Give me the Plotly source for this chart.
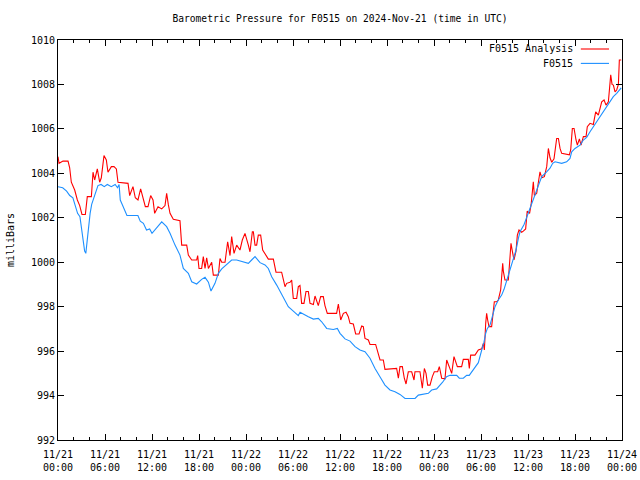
import plotly.graph_objects as go
from datetime import datetime, timedelta

# F0515 (station) : hours since 2024-11-21 00:00 UTC, pressure in mbar
station_hours = [0.0, 0.6, 1.1, 1.5, 1.9, 2.2, 2.5, 2.8, 3.0, 3.2, 3.4, 3.55, 3.7, 3.9, 4.1, 4.3, 4.6, 4.9,
                 5.1, 5.5, 5.9, 6.3, 6.8, 7.3, 7.6, 7.8, 7.95, 8.2, 8.5, 8.8, 9.5, 10.2, 10.5, 10.9, 11.3,
                 11.7, 12.0, 12.5, 12.9, 13.24, 13.87, 14.3, 14.94, 15.57, 16.0, 16.64, 17.07, 17.7, 18.34,
                 18.77, 19.2, 19.53, 20.04, 20.47, 20.9, 21.53, 22.17, 22.81, 23.66, 24.3, 24.72, 25.15,
                 25.79, 26.43, 26.85, 27.28, 27.92, 28.56, 28.98, 29.4, 30.04, 30.68, 30.9, 31.32, 31.96,
                 32.6, 33.23, 33.66, 34.3, 35.15, 35.66, 36.0, 36.64, 37.28, 37.92, 38.55, 39.19, 39.83,
                 40.47, 41.1, 41.74, 42.38, 43.02, 43.66, 44.3, 45.58, 46.0, 47.28, 47.7, 48.34, 48.77,
                 49.1, 49.6, 50.04, 50.9, 51.23, 51.74, 52.17, 52.5, 52.81, 53.23, 53.66, 54.09, 54.38,
                 54.6, 54.81, 55.15, 55.49, 55.79, 56.21, 56.64, 56.94, 57.28, 57.62, 58.04, 58.47, 58.77,
                 58.98, 59.5, 60.0, 60.5, 61.1, 61.75, 62.38, 62.81, 63.15, 63.45, 64.3, 64.94, 65.36,
                 65.58, 66.0, 66.64, 67.07, 67.49, 67.92, 68.34, 68.77, 69.19, 69.62, 70.04, 70.47, 70.89,
                 71.32, 71.66, 71.9]
station_mbar = [1003.4, 1003.35, 1003.2, 1003.0, 1002.9, 1002.5, 1002.2, 1002.05, 1001.6, 1001.0, 1000.5,
                1000.4, 1000.9, 1001.6, 1002.2, 1002.6, 1002.9, 1003.2, 1003.45, 1003.5, 1003.4, 1003.5,
                1003.4, 1003.5, 1003.35, 1003.5, 1002.8, 1002.6, 1002.3, 1002.1, 1002.1, 1002.1, 1001.85,
                1001.75, 1001.45, 1001.5, 1001.3, 1001.5, 1001.65, 1001.82, 1001.6, 1001.3, 1000.77,
                1000.32, 999.72, 999.5, 999.12, 999.02, 999.23, 999.32, 999.1, 998.7, 999.05, 999.5,
                999.7, 999.9, 1000.1, 1000.1, 1000.02, 999.95, 1000.1, 1000.25, 999.98, 999.88, 999.72,
                999.35, 998.97, 998.52, 998.25, 998.0, 997.8, 997.6, 997.75, 997.66, 997.55, 997.44,
                997.47, 997.32, 997.02, 996.97, 997.02, 996.8, 996.55, 996.45, 996.2, 996.05, 995.97,
                995.68, 995.22, 994.85, 994.47, 994.25, 994.17, 994.05, 993.87, 993.87, 994.02, 994.1,
                994.25, 994.3, 994.47, 994.6, 994.85, 994.91, 994.91, 994.78, 994.78, 994.91, 994.91,
                995.07, 995.3, 995.48, 996.05, 996.4, 996.8, 997.02, 997.17, 997.62, 998.0, 998.3,
                998.52, 998.78, 999.2, 999.57, 1000.02, 1000.55, 1001.07, 1001.37, 1001.7, 1002.2,
                1002.6, 1003.3, 1003.85, 1004.07, 1004.23, 1004.45, 1004.52, 1004.45, 1004.52, 1004.67,
                1004.97, 1005.12, 1005.27, 1005.5, 1005.62, 1005.87, 1006.1, 1006.32, 1006.52, 1006.77,
                1007.0, 1007.22, 1007.45, 1007.6, 1007.78, 1007.85]

# F0515 Analysis
analysis_hours = [0.0, 0.13, 0.64, 1.28, 1.49, 1.7, 2.13, 2.47, 2.77, 3.06, 3.49, 3.74, 4.26, 4.47, 4.68,
                  5.02, 5.32, 5.53, 5.87, 6.17, 6.38, 6.81, 7.15, 7.45, 7.66, 8.94, 9.15, 9.57, 9.87, 10.21,
                  10.55, 10.85, 11.15, 11.49, 11.83, 12.13, 12.34, 12.77, 13.24, 13.66, 13.87, 14.08, 14.3,
                  14.72, 15.57, 15.79, 16.43, 16.64, 17.07, 17.7, 17.83, 18.0, 18.34, 18.55, 18.77, 18.98,
                  19.2, 19.62, 19.83, 20.47, 20.68, 20.9, 21.32, 21.66, 21.96, 22.17, 22.47, 22.81, 23.23,
                  23.53, 23.87, 24.3, 24.51, 24.81, 24.94, 25.15, 25.36, 25.57, 25.87, 26.13, 26.43, 26.85,
                  27.49, 27.83, 28.55, 28.77, 28.98, 29.19, 29.62, 29.83, 30.04, 30.47, 30.68, 30.89, 31.1,
                  31.4, 31.66, 31.96, 32.17, 32.6, 32.81, 33.23, 33.53, 33.87, 34.08, 34.38, 35.57, 35.79,
                  36.09, 36.43, 36.77, 37.06, 37.28, 37.7, 38.0, 38.43, 38.77, 38.98, 39.19, 39.62, 39.83,
                  40.55, 40.81, 41.11, 41.53, 41.74, 43.23, 43.45, 43.66, 43.96, 44.21, 44.43, 44.72,
                  45.15, 45.45, 45.57, 46.21, 46.34, 46.51, 46.77, 46.98, 47.19, 47.49, 47.79, 48.04,
                  48.47, 48.68, 48.98, 49.4, 49.62, 50.04, 50.26, 50.55, 50.81, 50.98, 51.53, 51.74, 52.38,
                  52.51, 52.68, 53.23, 53.66, 54.09, 54.3, 54.43, 54.6, 54.72, 54.85, 55.02, 55.36, 55.57,
                  55.7, 56.0, 56.21, 56.51, 56.64, 56.77, 56.85, 57.06, 57.49, 57.7, 57.83, 58.0, 58.21,
                  58.47, 58.64, 58.85, 59.19, 59.4, 59.7, 59.9, 60.2, 60.4, 60.68, 60.81, 61.11, 61.53,
                  61.75, 62.09, 62.39, 62.6, 62.81, 63.03, 63.32, 63.66, 63.88, 64.09, 64.3, 65.28, 65.45,
                  65.66, 65.88, 66.13, 66.3, 66.56, 66.77, 67.07, 67.41, 67.57, 67.92, 68.34, 68.64, 68.98,
                  69.41, 69.71, 69.96, 70.26, 70.56, 70.73, 70.9, 71.11, 71.32, 71.54, 71.66, 71.9]
analysis_mbar = [1004.75, 1004.45, 1004.55, 1004.55, 1004.25, 1003.6, 1003.25, 1002.8, 1002.55, 1002.15,
                 1002.15, 1002.95, 1002.95, 1004.05, 1003.7, 1004.2, 1003.6, 1003.8, 1004.8, 1004.6,
                 1004.05, 1004.3, 1004.3, 1004.2, 1003.6, 1003.55, 1003.0, 1003.4, 1002.9, 1002.8,
                 1003.3, 1002.85, 1002.5, 1002.5, 1003.0, 1002.8, 1002.2, 1002.5, 1002.4, 1002.55,
                 1003.1, 1002.6, 1002.2, 1001.93, 1001.87, 1000.77, 1000.77, 1000.32, 1000.1, 1000.1,
                 1000.3, 999.72, 999.72, 1000.25, 999.72, 1000.2, 999.72, 1000.0, 999.42, 999.42,
                 1000.17, 1000.0, 1000.0, 1000.92, 1000.3, 1001.15, 1000.4, 1000.77, 1000.55, 1001.0,
                 1001.3, 1000.77, 1000.47, 1001.37, 1001.37, 1000.77, 1000.77, 1001.22, 1001.22,
                 1000.55, 1000.4, 1000.14, 1000.14, 999.55, 999.55, 999.2, 998.9, 999.05, 999.1, 999.2,
                 998.37, 998.37, 998.9, 998.95, 998.15, 998.15, 998.68, 998.68, 998.15, 998.1, 998.48,
                 998.05, 998.45, 998.45, 998.05, 997.7, 997.7, 998.12, 997.4, 997.7, 997.75, 997.55,
                 997.25, 997.22, 996.77, 996.77, 997.13, 997.1, 996.57, 996.5, 996.3, 996.3, 995.97,
                 995.6, 995.6, 995.18, 995.22, 994.78, 995.3, 995.3, 994.78, 994.52, 995.07, 995.07,
                 994.7, 995.07, 995.07, 994.7, 994.33, 995.22, 995.0, 994.47, 994.47, 994.85, 995.07,
                 995.07, 995.3, 994.78, 994.75, 995.6, 995.22, 995.0, 995.75, 995.5, 995.3, 995.3,
                 995.63, 995.63, 995.22, 995.82, 995.82, 996.05, 996.1, 996.35, 996.05, 997.25, 997.7,
                 997.4, 997.1, 997.1, 997.85, 998.22, 998.22, 998.3, 998.75, 999.5, 999.95, 999.6,
                 999.2, 999.2, 1000.4, 1000.85, 1000.5, 1000.1, 1000.5, 1001.22, 1001.45, 1001.35,
                 1001.4, 1001.5, 1002.3, 1002.2, 1002.6, 1003.62, 1003.0, 1003.1, 1004.07, 1003.8,
                 1003.85, 1004.3, 1005.12, 1004.7, 1004.5, 1004.65, 1005.57, 1005.57, 1005.12, 1004.9,
                 1004.83, 1005.05, 1006.02, 1006.02, 1005.5, 1005.27, 1005.55, 1005.27, 1005.65,
                 1005.65, 1006.1, 1006.25, 1006.2, 1006.77, 1006.62, 1007.22, 1007.3, 1007.07, 1007.22,
                 1008.43, 1008.0, 1007.97, 1007.67, 1007.75, 1008.0, 1009.1, 1009.1]

tick_hours = [0, 6, 12, 18, 24, 30, 36, 42, 48, 54, 60, 66, 72]
tick_labels = ["11/21<br>00:00", "11/21<br>06:00", "11/21<br>12:00", "11/21<br>18:00",
               "11/22<br>00:00", "11/22<br>06:00", "11/22<br>12:00", "11/22<br>18:00",
               "11/23<br>00:00", "11/23<br>06:00", "11/23<br>12:00", "11/23<br>18:00",
               "11/24<br>00:00"]
y_ticks = [992, 994, 996, 998, 1000, 1002, 1004, 1006, 1008, 1010]

base = datetime(2024, 11, 21, 0, 0)
to_t = lambda hs: [base + timedelta(hours=h) for h in hs]

FONT = "DejaVu Sans Mono"
RED = "#ff0000"
BLUE = "#1e90ff"

fig = go.Figure()
fig.add_trace(go.Scatter(x=to_t(analysis_hours), y=analysis_mbar, mode="lines",
                         line=dict(color=RED, width=1.1), name="F0515 Analysis", showlegend=False))
fig.add_trace(go.Scatter(x=to_t(station_hours), y=station_mbar, mode="lines",
                         line=dict(color=BLUE, width=1.1), name="F0515", showlegend=False))

# legend drawn gnuplot-style (text right, sample line after)
for i, (name, col) in enumerate([("F0515 Analysis", RED), ("F0515", BLUE)]):
    yp = 0.9775 - i * 0.036
    fig.add_annotation(x=0.9167, y=yp, xref="paper", yref="paper", text=name, showarrow=False,
                       xanchor="right", yanchor="middle", font=dict(family=FONT, size=10, color="black"))
    fig.add_shape(type="line", xref="paper", yref="paper", x0=0.927, x1=0.977, y0=yp, y1=yp,
                  line=dict(color=col, width=1.1))

fig.add_annotation(x=-0.085, y=0.5, xref="paper", yref="paper", text="milliBars", showarrow=False,
                   textangle=-90, xanchor="center", yanchor="middle",
                   font=dict(family=FONT, size=10, color="black"))

fig.update_layout(
    width=640, height=480,
    margin=dict(l=58, r=18, t=40, b=40, autoexpand=False),
    paper_bgcolor="white", plot_bgcolor="white",
    font=dict(family=FONT, size=10, color="black"),
    title=dict(text="Barometric Pressure for F0515 on 2024-Nov-21 (time in UTC)",
               x=0.5, xref="paper", xanchor="center", y=1 - 19 / 480, yref="container",
               yanchor="middle", font=dict(family=FONT, size=9.6, color="black")),
    showlegend=False,
)
fig.update_xaxes(range=[base, base + timedelta(hours=72)], tickvals=to_t(tick_hours), ticktext=tick_labels,
                 automargin=False, ticklabeloverflow="allow",
                 showgrid=False, zeroline=False, showline=True, linecolor="black", linewidth=1,
                 mirror="allticks", ticks="inside", ticklen=6, tickcolor="black", ticklabelstandoff=5,
                 minor=dict(ticks="inside", ticklen=3, dtick=2 * 3600 * 1000, tickcolor="black", showgrid=False),
                 tickfont=dict(family=FONT, size=10, color="black"))
fig.update_yaxes(range=[992, 1010], tickvals=y_ticks, automargin=False, showgrid=False, zeroline=False,
                 showline=True, linecolor="black", linewidth=1, mirror="allticks", ticks="inside", ticklen=6,
                 tickcolor="black", tickfont=dict(family=FONT, size=10, color="black"))

fig.write_html("out.html", config={"displayModeBar": False},
               post_script="document.documentElement.style.margin='0';document.body.style.margin='0';"
                           "document.documentElement.style.overflow='hidden';document.body.style.overflow='hidden';")
